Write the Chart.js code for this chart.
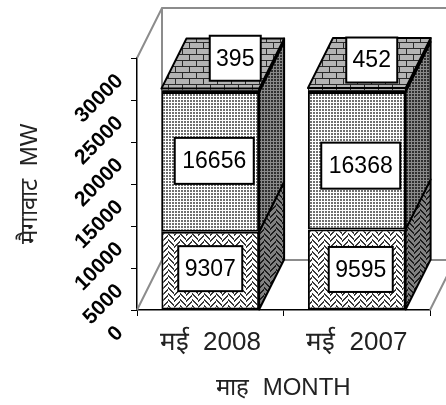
<!DOCTYPE html>
<html>
<head>
<meta charset="utf-8">
<style>
	html, body { margin: 0; padding: 0; background: #fff; }
	canvas { display: block; }
</style>
<script src="https://cdn.jsdelivr.net/npm/chart.js@4"></script>
</head>
<body>
<canvas id="chart" width="446" height="405"></canvas>
<script>
// Values
const categories = ['मई  2008', 'मई  2007'];
const baseValues = [9307, 9595];
const middleValues = [16656, 16368];
const topValues = [395, 452];

// Depth of the fake 3D box, px
const depthX = 25;
const depthY = 50;

const sans = '"Liberation Sans", Arial, sans-serif';

/* Build a repeating fill from a small tile drawn pixel by pixel */
function makeTile(w, h, colorAt) {
	const tile = document.createElement('canvas');
	tile.width = w;
	tile.height = h;
	const c = tile.getContext('2d');
	for (let y = 0; y < h; y++) {
		for (let x = 0; x < w; x++) {
			c.fillStyle = colorAt(x, y);
			c.fillRect(x, y, 1, 1);
		}
	}
	return c.createPattern(tile, 'repeat');
}

function weave(light, dark) {
	return makeTile(12, 12, (x, y) => {
		const d = Math.floor(x / 6) % 2 ? (x + y) % 6 : (x - y + 120) % 6;
		return d < 2 ? dark : light;
	});
}

function dots(light, dark) {
	return makeTile(3, 3, (x, y) => (x === 0 || y === 0 ? light : dark));
}

function bricks(light, dark) {
	return makeTile(14, 12, (x, y) => {
		if (y % 6 === 0) return dark;
		const shift = y < 6 ? 0 : 7;
		return (x + shift) % 14 === 0 ? dark : light;
	});
}

const frontFills = [weave('#ffffff', '#3a3a3a'), dots('#ffffff', '#707070'), bricks('#b4b4b4', '#2a2a2a')];
const sideFills = [weave('#808080', '#1c1c1c'), dots('#8a8a8a', '#303030'), dots('#8a8a8a', '#303030')];
const topFill = bricks('#b4b4b4', '#2a2a2a');

// Where the value boxes sit relative to the middle of their segment
const boxShift = [
	[[0, -2], [4, 0]],
	[[4, -1], [4, 5]],
	[[25, -32], [15, -30]]
];
const boxSize = [[64, 45], [79, 46], [51, 45]];

function polygon(ctx, points, fill) {
	ctx.beginPath();
	points.forEach((p, i) => (i ? ctx.lineTo(p[0], p[1]) : ctx.moveTo(p[0], p[1])));
	ctx.closePath();
	ctx.fillStyle = fill;
	ctx.fill();
	ctx.stroke();
}

/* Walls, floor and the side and top faces of the columns */
const boxPlugin = {
	id: 'box',
	beforeDatasetsDraw(chart) {
		const { ctx, chartArea: a } = chart;
		const w = chart.width;
		ctx.save();
		ctx.strokeStyle = '#8c8c8c';
		ctx.lineWidth = 2;
		ctx.beginPath();
		ctx.moveTo(a.left, a.top);
		ctx.lineTo(a.left + depthX, a.top - depthY);
		ctx.lineTo(w, a.top - depthY);
		ctx.moveTo(a.left + depthX, a.top - depthY);
		ctx.lineTo(a.left + depthX, a.bottom - depthY);
		ctx.lineTo(w, a.bottom - depthY);
		ctx.moveTo(a.left, a.bottom);
		ctx.lineTo(a.left + depthX, a.bottom - depthY);
		ctx.moveTo(a.right, a.bottom);
		ctx.lineTo(a.right + depthX, a.bottom - depthY);
		ctx.stroke();

		ctx.strokeStyle = '#000';
		ctx.lineWidth = 2;
		ctx.lineJoin = 'round';
		chart.data.datasets.forEach((ds, d) => {
			chart.getDatasetMeta(d).data.forEach(bar => {
				const right = bar.x + bar.width / 2;
				const left = bar.x - bar.width / 2;
				polygon(ctx, [[right, bar.base], [right + depthX, bar.base - depthY], [right + depthX, bar.y - depthY], [right, bar.y]], sideFills[d]);
				if (d === chart.data.datasets.length - 1) {
					polygon(ctx, [[left, bar.y], [left + depthX, bar.y - depthY], [right + depthX, bar.y - depthY], [right, bar.y]], topFill);
				}
			});
		});
		ctx.restore();
	},
	afterDatasetsDraw(chart) {
		const { ctx } = chart;
		ctx.save();
		ctx.font = '23px ' + sans;
		ctx.textAlign = 'center';
		ctx.textBaseline = 'middle';
		chart.data.datasets.forEach((ds, d) => {
			chart.getDatasetMeta(d).data.forEach((bar, i) => {
				const x = bar.x + boxShift[d][i][0];
				const y = (bar.y + bar.base) / 2 + boxShift[d][i][1];
				const [bw, bh] = boxSize[d];
				ctx.fillStyle = '#fff';
				ctx.strokeStyle = '#000';
				ctx.lineWidth = 2;
				ctx.fillRect(x - bw / 2, y - bh / 2, bw, bh);
				ctx.strokeRect(x - bw / 2, y - bh / 2, bw, bh);
				ctx.fillStyle = '#000';
				ctx.fillText(String(ds.data[i]), x, y + 1);
			});
		});
		ctx.restore();
	}
};

function segment(values, index, borderWidth) {
	return {
		data: values,
		backgroundColor: frontFills[index],
		borderColor: '#000',
		borderWidth: borderWidth,
		borderSkipped: false,
		barPercentage: 0.667,
		categoryPercentage: 1
	};
}

new Chart(document.getElementById('chart'), {
	type: 'bar',
	data: {
		labels: categories,
		datasets: [segment(baseValues, 0, 2), segment(middleValues, 1, 2), segment(topValues, 2, 1)]
	},
	plugins: [boxPlugin],
	options: {
		responsive: false,
		animation: false,
		layout: { padding: { top: 58, right: 16, left: 0, bottom: 0 } },
		plugins: { legend: { display: false }, tooltip: { enabled: false } },
		scales: {
			x: {
				stacked: true,
				afterFit: scale => { scale.height = 95; },
				grid: { drawOnChartArea: false, color: '#000', tickLength: 6, tickWidth: 1 },
				border: { color: '#000', width: 1.5 },
				ticks: { color: '#222', font: { family: sans, size: 26 }, padding: 11, maxRotation: 0 },
				title: {
					display: true,
					text: 'माह  MONTH',
					color: '#222',
					font: { family: sans, size: 24 },
					padding: { top: 0, bottom: 2 }
				}
			},
			y: {
				stacked: true,
				min: 0,
				max: 30000,
				afterFit: scale => { scale.width = 137; },
				grid: { drawOnChartArea: false, color: '#000', tickLength: 6, tickWidth: 1 },
				border: { color: '#000', width: 1.5 },
				ticks: {
					stepSize: 5000,
					callback: value => String(value),
					color: '#000',
					font: { family: sans, size: 21, weight: 'bold' },
					minRotation: 45,
					maxRotation: 45,
					padding: 11,
					labelOffset: 20
				},
				title: {
					display: true,
					text: 'मैगावाट  MW',
					color: '#222',
					font: { family: sans, size: 24 },
					padding: { top: 16, bottom: 0 }
				}
			}
		}
	}
});
</script>
</body>
</html>
